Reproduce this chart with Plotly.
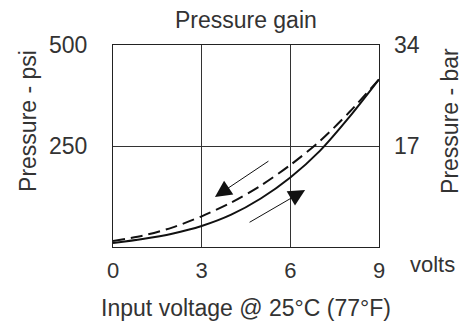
import plotly.graph_objects as go

VOLTS = [0, 1, 2, 3, 4, 5, 6, 7, 8, 9]
# increasing voltage (solid) and decreasing voltage (dashed), psi
PSI_UP = [10, 20, 33, 52, 80, 120, 172, 238, 322, 415]
PSI_DOWN = [15, 28, 48, 76, 110, 152, 203, 262, 334, 415]

X_TICKS = [0, 3, 6, 9]
PSI_TICKS = [250, 500]
BAR_TICKS = [17, 34]

# direction arrows: (head volts, head psi, tail volts, tail psi)
ARROW_DOWN = (3.45, 124, 5.31, 215)
ARROW_UP = (6.5, 141, 4.57, 59)

FONT = "Liberation Sans"
INK = "#333333"

fig = go.Figure()
fig.add_trace(go.Scatter(
    x=VOLTS, y=PSI_UP, mode="lines",
    line=dict(color="#111111", width=2, shape="spline", smoothing=0.8),
    showlegend=False, hoverinfo="skip",
))
fig.add_trace(go.Scatter(
    x=VOLTS, y=PSI_DOWN, mode="lines",
    line=dict(color="#111111", width=2, shape="spline", smoothing=0.8,
              dash="12px,6px"),
    showlegend=False, hoverinfo="skip",
))
# invisible trace so the bar axis gets drawn
fig.add_trace(go.Scatter(x=[None], y=[None], yaxis="y2", showlegend=False))

for hx, hy, tx, ty in (ARROW_DOWN, ARROW_UP):
    fig.add_annotation(
        x=hx, y=hy, ax=tx, ay=ty, xref="x", yref="y", axref="x", ayref="y",
        text="", showarrow=True, arrowhead=2, arrowsize=3.3, arrowwidth=1,
        arrowcolor="#111111",
    )

fig.add_annotation(
    text="volts", xref="paper", yref="paper", x=1.203, y=0,
    xanchor="center", yanchor="top", yshift=-3, showarrow=False,
    font=dict(size=22, color=INK, family=FONT),
)
# side titles sit a bit above the middle of the plot in the original
fig.add_annotation(
    text="Pressure - psi", textangle=-90, xref="paper", yref="paper",
    x=-85 / 266, y=0.624, xanchor="center", yanchor="middle",
    showarrow=False, font=dict(size=23, color=INK, family=FONT),
)
fig.add_annotation(
    text="Pressure - bar", textangle=-90, xref="paper", yref="paper",
    x=1 + 71 / 266, y=0.624, xanchor="center", yanchor="middle",
    showarrow=False, font=dict(size=23, color=INK, family=FONT),
)

fig.update_layout(
    width=471, height=321,
    margin=dict(l=113, r=92, t=45, b=74),
    paper_bgcolor="white", plot_bgcolor="white",
    font=dict(family=FONT, size=22, color=INK),
    title=dict(text="Pressure gain", x=0.522, xanchor="center",
               y=1 - 20 / 321, yanchor="middle", yref="container",
               font=dict(size=23, color=INK)),
    xaxis=dict(
        range=[0, 9], tickvals=X_TICKS, ticks="", showgrid=True,
        gridcolor="#333333", gridwidth=1, zeroline=False,
        showline=True, linecolor="#222222", linewidth=1.3, mirror=True,
        ticklabelstandoff=3, automargin=False, tickfont=dict(size=22),
        title=dict(text="Input voltage @ 25°C (77°F)", standoff=18,
                   font=dict(size=23)),
    ),
    yaxis=dict(
        range=[0, 500], tickvals=PSI_TICKS, ticks="", showgrid=True,
        gridcolor="#333333", gridwidth=1, zeroline=False,
        showline=True, linecolor="#222222", linewidth=1.3, mirror=True,
        ticklabelstandoff=20, automargin=False, tickfont=dict(size=23),
    ),
    yaxis2=dict(
        range=[0, 34], tickvals=BAR_TICKS, ticks="", showgrid=False,
        zeroline=False, overlaying="y", side="right",
        ticklabelstandoff=14, automargin=False, tickfont=dict(size=23),
    ),
)

# drop the browser's default page margin so the figure sits at (0, 0)
fig.write_html("out.html", config={"displayModeBar": False},
               post_script="document.body.style.margin='0';")
